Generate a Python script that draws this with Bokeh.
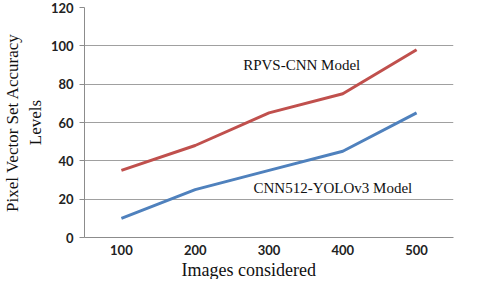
from bokeh.plotting import figure
from bokeh.models import Label, Range1d, FixedTicker, Title
from bokeh.embed import file_html
from bokeh.resources import INLINE

images = [100, 200, 300, 400, 500]
rpvs_cnn = [35, 48, 65, 75, 98]
cnn512_yolov3 = [10, 25, 35, 45, 65]
y_ticks = [0, 20, 40, 60, 80, 100, 120]

p = figure(width=472, height=279, output_backend="svg", toolbar_location=None,
           x_range=Range1d(50, 550), y_range=Range1d(0, 120))
p.min_border_left = 78
p.min_border_right = 19
p.min_border_top = 7
p.min_border_bottom = 0
p.outline_line_color = None

p.line(images, rpvs_cnn, line_color="#C0504D", line_width=3)
p.line(images, cnn512_yolov3, line_color="#4F81BD", line_width=3)

p.xaxis.ticker = FixedTicker(ticks=images)
p.yaxis.ticker = FixedTicker(ticks=y_ticks)
p.xgrid.grid_line_color = None
p.ygrid.grid_line_color = "#A0A0A0"
p.ygrid.grid_line_width = 1

for ax in (p.xaxis, p.yaxis):
    ax.axis_line_color = "#8C8C8C"
    ax.minor_tick_line_color = None
    ax.minor_tick_out = 0
    ax.minor_tick_in = 0
    ax.major_label_text_font = "Lato"
    ax.major_label_text_font_size = "13px"
    ax.major_label_text_font_style = "bold"
    ax.major_label_text_color = "#222222"
    ax.axis_label_text_font = "Liberation Serif"
    ax.axis_label_text_font_style = "normal"
    ax.axis_label_text_color = "#111111"

p.xaxis.major_tick_line_color = None
p.xaxis.major_tick_out = 0
p.xaxis.major_tick_in = 0
p.xaxis.major_label_standoff = 7
p.yaxis.major_tick_line_color = "#8C8C8C"
p.yaxis.major_tick_in = 0
p.yaxis.major_tick_out = 5
p.yaxis.major_label_standoff = 6

p.yaxis.axis_label = "Pixel Vector Set Accuracy\nLevels"
p.yaxis.axis_label_text_font_size = "17px"
p.yaxis.axis_label_standoff = 3

p.add_layout(Title(text="Images considered", align="left", text_font="Liberation Serif",
                   text_font_size="18px", text_font_style="normal", text_color="#111111",
                   standoff=0, offset=97), "below")

p.add_layout(Label(x=265, y=90, text="RPVS-CNN Model", text_font="Liberation Serif",
                   text_font_size="15px", text_baseline="middle", text_color="#111111"))
p.add_layout(Label(x=279, y=25.7, text="CNN512-YOLOv3 Model", text_font="Liberation Serif",
                   text_font_size="15px", text_baseline="middle", text_color="#111111"))

open("out.html", "w").write(file_html(p, INLINE))
